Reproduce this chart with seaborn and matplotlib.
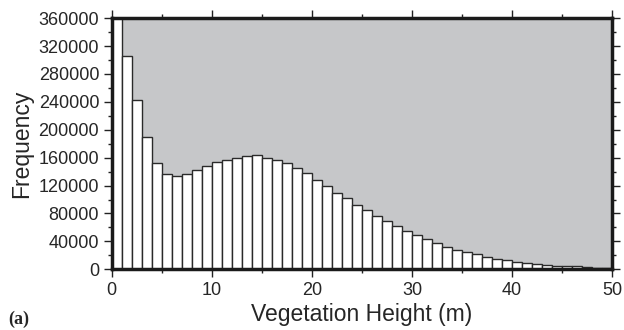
import matplotlib
matplotlib.use("Agg")
import matplotlib.pyplot as plt
import seaborn as sns
import numpy as np
import pandas as pd
from matplotlib.ticker import MultipleLocator

# Bin left edges (m) and frequencies
bin_left = list(range(0, 50))
frequency = [
    380000, 306000, 242000, 190000, 152500, 136500, 134000, 136500, 143000, 148000,
    154000, 157000, 160000, 162000, 163500, 160000, 156300, 152800, 145800, 138100,
    128500, 119500, 110000, 102300, 92700, 85000, 76900, 69300, 61700, 55400,
    49200, 43000, 38200, 32200, 27500, 24400, 21500, 18100, 15200, 13300,
    10900, 9000, 7600, 5700, 5300, 4300, 4000, 2800, 2500, 2000,
]
bin_edges = list(range(0, 51))

df = pd.DataFrame({"height": [b + 0.5 for b in bin_left], "freq": frequency})

sns.set_style("ticks")
plt.rcParams["font.family"] = ["Liberation Sans", "DejaVu Sans"]

fig = plt.figure(figsize=(6.24, 3.30), dpi=100)
ax = fig.add_axes([0.179, 0.184, 0.802, 0.761])
ax.set_facecolor("#c6c7c9")

sns.histplot(data=df, x="height", weights="freq", bins=bin_edges, ax=ax,
             color="white", alpha=1.0, edgecolor="#2a2a2a", linewidth=1.0)

ax.set_xlim(0, 50)
ax.set_ylim(0, 360000)
ax.xaxis.set_major_locator(MultipleLocator(10))
ax.xaxis.set_minor_locator(MultipleLocator(5))
ax.yaxis.set_major_locator(MultipleLocator(40000))
ax.yaxis.set_minor_locator(MultipleLocator(20000))
ax.tick_params(which="both", direction="out", top=True, right=True,
               labeltop=False, labelright=False, color="#222222")
ax.tick_params(which="major", length=6, width=1.0, labelsize=13, pad=3)
ax.tick_params(which="minor", length=3, width=1.0)

for s in ax.spines.values():
    s.set_linewidth(2.5)
    s.set_color("#1a1a1a")
    s.set_zorder(5)

ax.set_xlabel("Vegetation Height (m)", fontsize=16.5, labelpad=3)
ax.set_ylabel("Frequency", fontsize=16.5, labelpad=4)

fig.text(0.013, 0.006, "(a)", fontsize=13, fontweight="bold",
         family=["Liberation Serif"], ha="left", va="bottom")

fig.savefig("out.png", dpi=100)
